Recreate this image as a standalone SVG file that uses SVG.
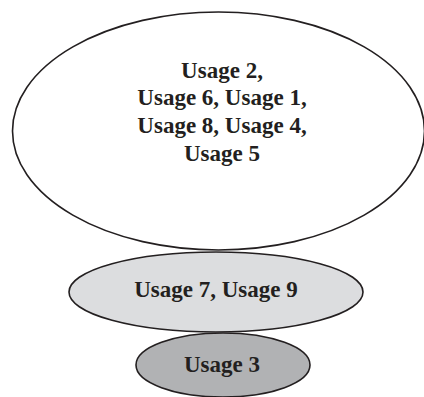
<svg xmlns="http://www.w3.org/2000/svg" width="424" height="397" viewBox="0 0 424 397">
  <style>
    .shape { stroke: #231f20; stroke-width: 1.6; }
    .label { font-family: "Liberation Serif", "Times New Roman", serif; font-weight: bold; font-size: 23px; fill: #231f20; text-anchor: middle; }
  </style>
  <rect width="424" height="397" fill="#ffffff"/>
  <g id="connectors"></g>
  <g id="tier-top">
    <ellipse class="shape" cx="218.5" cy="131" rx="206" ry="119" fill="#ffffff"/>
    <text class="label" x="222" y="77.5">Usage 2,</text>
    <text class="label" x="222" y="105.3">Usage 6, Usage 1,</text>
    <text class="label" x="222" y="133">Usage 8, Usage 4,</text>
    <text class="label" x="222" y="160.8">Usage 5</text>
  </g>
  <g id="tier-middle">
    <ellipse class="shape" cx="216" cy="292" rx="147" ry="40" fill="#dcdddf"/>
    <text class="label" x="216" y="297">Usage 7, Usage 9</text>
  </g>
  <g id="tier-bottom">
    <ellipse class="shape" cx="223" cy="365" rx="87" ry="32" fill="#b1b2b4"/>
    <text class="label" x="222" y="372">Usage 3</text>
  </g>
</svg>
